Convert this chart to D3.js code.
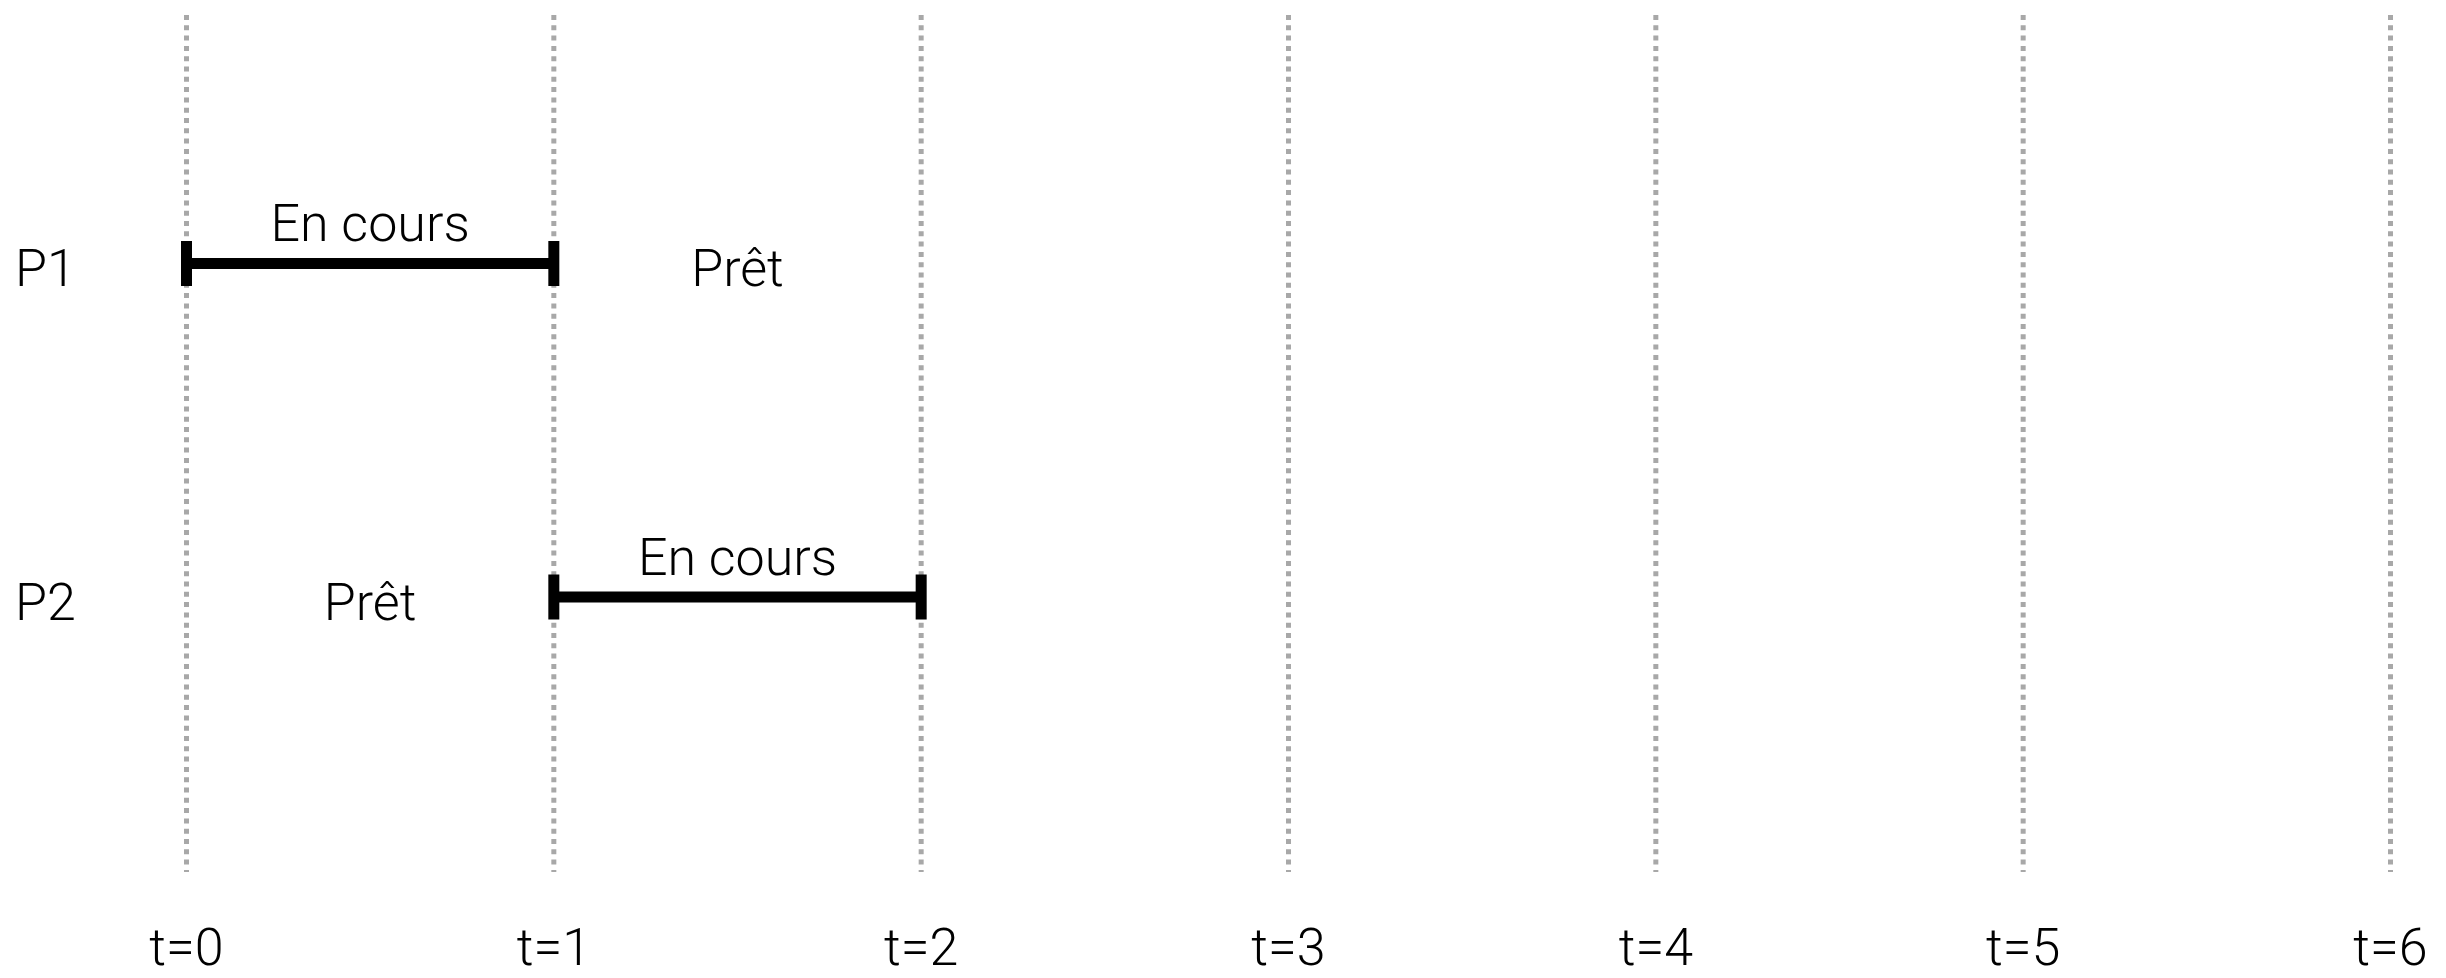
<!DOCTYPE html>
<html>
<head>
<meta charset="utf-8">
<script src="https://cdn.jsdelivr.net/npm/d3@7"></script>
<style>
  body { margin: 0; background: #fff; }
  text { font-family: "Roboto", "Liberation Sans", sans-serif; font-weight: 300; }
</style>
</head>
<body>
<div id="chart"></div>
<script>
const width = 2446, height = 978;

// time ticks
const ticks = [0, 1, 2, 3, 4, 5, 6];
const tickLabels = ticks.map(t => `t=${t}`);

// processes (rows)
const processes = ["P1", "P2"];

// running intervals (drawn as bars)
const running = [
  {proc: "P1", start: 0, end: 1, label: "En cours"},
  {proc: "P2", start: 1, end: 2, label: "En cours"}
];

// ready intervals (label only)
const ready = [
  {proc: "P1", start: 1, end: 2, label: "Prêt"},
  {proc: "P2", start: 0, end: 1, label: "Prêt"}
];

const x = d3.scaleLinear().domain([0, 6]).range([186.5, 2390.5]);
const y = d3.scalePoint().domain(processes).range([263.5, 597]);

const svg = d3.select("#chart")
  .append("svg")
  .attr("width", width)
  .attr("height", height);

// dotted grid lines
svg.append("g")
  .selectAll("line")
  .data(ticks)
  .enter()
  .append("line")
  .attr("x1", d => x(d))
  .attr("x2", d => x(d))
  .attr("y1", 15)
  .attr("y2", 872)
  .attr("stroke", "#a8a8a8")
  .attr("stroke-width", 5)
  .attr("stroke-dasharray", "5,5.3");

// bottom tick labels
svg.append("g")
  .selectAll("text")
  .data(ticks)
  .enter()
  .append("text")
  .attr("x", d => x(d))
  .attr("y", 965)
  .attr("text-anchor", "middle")
  .style("font-size", "52px")
  .text((d, i) => tickLabels[i]);

// row labels
svg.append("g")
  .selectAll("text")
  .data(processes)
  .enter()
  .append("text")
  .attr("x", 15)
  .attr("y", d => y(d) + 22.5)
  .style("font-size", "52px")
  .text(d => d);

// running bars
const bars = svg.append("g");

bars.selectAll(".bar")
  .data(running)
  .enter()
  .append("line")
  .attr("class", "bar")
  .attr("x1", d => x(d.start))
  .attr("x2", d => x(d.end))
  .attr("y1", d => y(d.proc))
  .attr("y2", d => y(d.proc))
  .attr("stroke", "#000")
  .attr("stroke-width", 11);

const caps = running.flatMap(d => [{proc: d.proc, t: d.start}, {proc: d.proc, t: d.end}]);

bars.selectAll(".cap")
  .data(caps)
  .enter()
  .append("rect")
  .attr("class", "cap")
  .attr("x", d => x(d.t) - 5.5)
  .attr("y", d => y(d.proc) - 22.5)
  .attr("width", 11)
  .attr("height", 45)
  .attr("fill", "#000");

bars.selectAll(".run-label")
  .data(running)
  .enter()
  .append("text")
  .attr("class", "run-label")
  .attr("x", d => (x(d.start) + x(d.end)) / 2)
  .attr("y", d => y(d.proc) - 22.5)
  .attr("text-anchor", "middle")
  .style("font-size", "52px")
  .text(d => d.label);

// ready labels
svg.append("g")
  .selectAll("text")
  .data(ready)
  .enter()
  .append("text")
  .attr("x", d => (x(d.start) + x(d.end)) / 2)
  .attr("y", d => y(d.proc) + 22.5)
  .attr("text-anchor", "middle")
  .style("font-size", "52px")
  .text(d => d.label);
</script>
</body>
</html>
